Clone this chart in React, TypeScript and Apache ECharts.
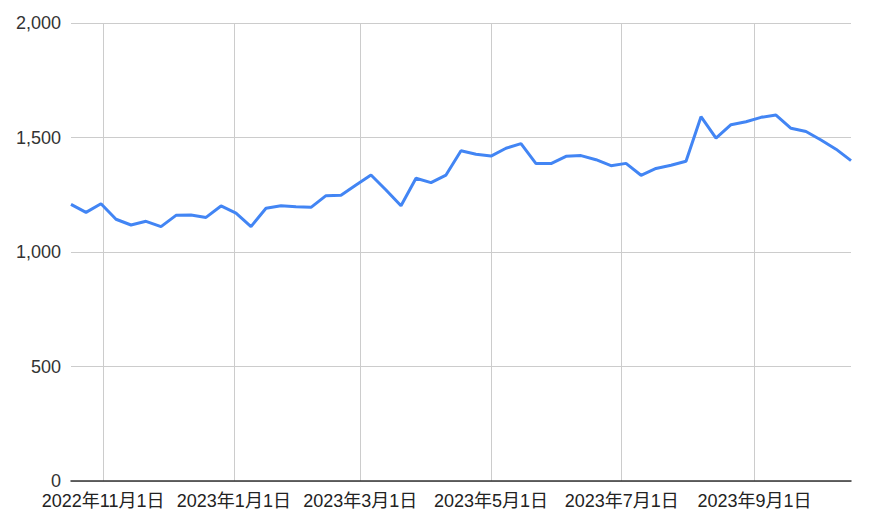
import React, { useEffect, useRef } from "react";
import * as echarts from "echarts";

const dates: string[] = [
  "2022-10-17", "2022-10-24", "2022-10-31", "2022-11-07", "2022-11-14", "2022-11-21", "2022-11-28",
  "2022-12-05", "2022-12-12", "2022-12-19", "2022-12-26",
  "2023-01-02", "2023-01-09", "2023-01-16", "2023-01-23", "2023-01-30",
  "2023-02-06", "2023-02-13", "2023-02-20", "2023-02-27",
  "2023-03-06", "2023-03-13", "2023-03-20", "2023-03-27",
  "2023-04-03", "2023-04-10", "2023-04-17", "2023-04-24",
  "2023-05-01", "2023-05-08", "2023-05-15", "2023-05-22", "2023-05-29",
  "2023-06-05", "2023-06-12", "2023-06-19", "2023-06-26",
  "2023-07-03", "2023-07-10", "2023-07-17", "2023-07-24", "2023-07-31",
  "2023-08-07", "2023-08-14", "2023-08-21", "2023-08-28",
  "2023-09-04", "2023-09-11", "2023-09-18", "2023-09-25",
  "2023-10-02", "2023-10-09", "2023-10-16",
];

const values: number[] = [
  1208, 1173, 1211, 1143, 1118, 1134, 1111, 1160, 1162, 1151, 1201,
  1170, 1111, 1191, 1202, 1198, 1195, 1246, 1248, 1293, 1336, 1271,
  1202, 1322, 1303, 1336, 1442, 1427, 1419, 1453, 1473, 1386, 1386,
  1418, 1421, 1403, 1377, 1387, 1335, 1365, 1379, 1396, 1591, 1497,
  1556, 1569, 1588, 1598, 1540, 1526, 1489, 1449, 1399,
];

const xTickDates: string[] = [
  "2022-11-01", "2023-01-01", "2023-03-01", "2023-05-01", "2023-07-01", "2023-09-01",
];

const yMin = 0;
const yMax = 2000;
const yInterval = 500;

function toTs(s: string): number {
  const [y, m, d] = s.split("-").map(Number);
  return Date.UTC(y, m - 1, d);
}

function fmtDate(v: number): string {
  const d = new Date(v);
  return `${d.getUTCFullYear()}年${d.getUTCMonth() + 1}月${d.getUTCDate()}日`;
}

export default function App() {
  const ref = useRef<HTMLDivElement>(null);

  useEffect(() => {
    if (!ref.current) return;
    const chart = echarts.init(ref.current, null, { renderer: "svg" });
    const font = "'Liberation Sans', Arial, 'Noto Sans CJK JP', sans-serif";
    const tickTs = xTickDates.map(toTs);
    chart.setOption({
      animation: false,
      backgroundColor: "#ffffff",
      textStyle: { fontFamily: font },
      grid: {
        left: 71,
        right: 19,
        top: 23,
        bottom: 44,
        containLabel: false,
        outerBoundsMode: "none",
      },
      xAxis: {
        type: "value",
        min: toTs(dates[0]),
        max: toTs(dates[dates.length - 1]),
        axisLine: { show: true, onZero: false, lineStyle: { color: "#333333", width: 1.5 } },
        axisTick: { show: false, customValues: tickTs },
        axisLabel: {
          customValues: tickTs,
          formatter: (v: number) => fmtDate(v),
          color: "#222222",
          fontSize: 18,
          lineHeight: 18,
          fontFamily: font,
          margin: 11,
          hideOverlap: false,
        },
        splitLine: { show: true, lineStyle: { color: "#cccccc", width: 1 } },
      },
      yAxis: {
        type: "value",
        min: yMin,
        max: yMax,
        interval: yInterval,
        axisLine: { show: false },
        axisTick: { show: false },
        axisLabel: {
          formatter: (v: number) => v.toLocaleString("en-US"),
          color: "#333333",
          fontSize: 18,
          lineHeight: 18,
          fontFamily: font,
          margin: 10,
        },
        splitLine: { show: true, lineStyle: { color: "#cccccc", width: 1 } },
      },
      series: [
        {
          type: "line",
          data: dates.map((d, i) => [toTs(d), values[i]]),
          symbol: "none",
          lineStyle: { color: "#4285f4", width: 3 },
          itemStyle: { color: "#4285f4" },
        },
      ],
    });
    return () => chart.dispose();
  }, []);

  return (
    <div
      ref={ref}
      style={{ position: "absolute", left: 0, top: 0, width: 870, height: 525 }}
    />
  );
}
